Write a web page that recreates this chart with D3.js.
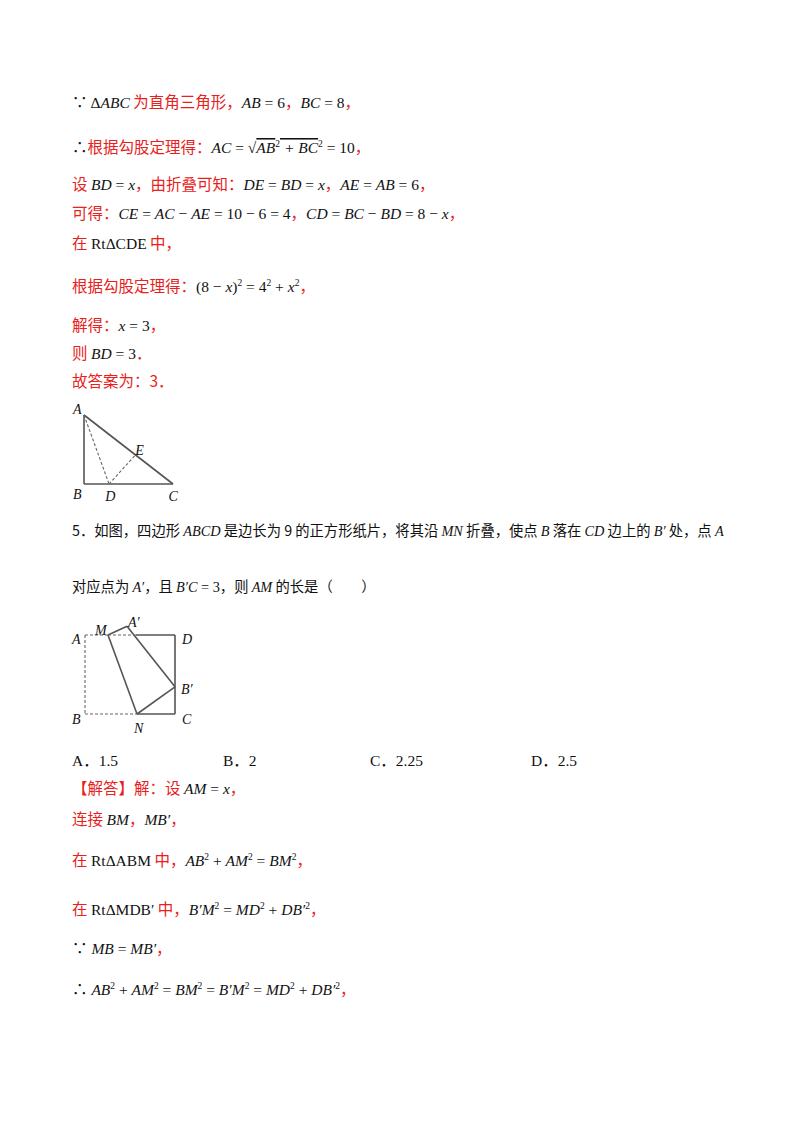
<!DOCTYPE html>
<html><head><meta charset="utf-8">
<script src="https://cdn.jsdelivr.net/npm/d3@7"></script>
<style>body{margin:0;background:#fff}</style></head>
<body><svg id="s" width="800" height="1132"></svg>
<script>
// segments: [text, style]  r=red CJK, k=black CJK, m=math italic, n=math upright, sup=superscript, o=overlined italic
const textLines = [
 {y:108, seg:[["∵ ","n"],["Δ","n"],["ABC","m"],[" 为直角三角形，","r"],["AB","m"],[" = 6","n"],["，","r"],["BC","m"],[" = 8","n"],["，","r"]]},
 {y:153, seg:[["∴","n"],["根据勾股定理得：","r"],["AC","m"],[" = √","n"],["AB","o"],["2","sup"],[" + BC","o"],["2","sup"],[" = 10","n"],["，","r"]]},
 {y:190, seg:[["设 ","r"],["BD","m"],[" = ","n"],["x","m"],["，由折叠可知：","r"],["DE","m"],[" = ","n"],["BD","m"],[" = ","n"],["x","m"],["，","r"],["AE","m"],[" = ","n"],["AB","m"],[" = 6","n"],["，","r"]]},
 {y:219, seg:[["可得：","r"],["CE","m"],[" = ","n"],["AC","m"],[" − ","n"],["AE","m"],[" = 10 − 6 = 4","n"],["，","r"],["CD","m"],[" = ","n"],["BC","m"],[" − ","n"],["BD","m"],[" = 8 − ","n"],["x","m"],["，","r"]]},
 {y:249, seg:[["在 ","r"],["RtΔCDE","n"],[" 中，","r"]]},
 {y:292, seg:[["根据勾股定理得：","r"],["(8 − ","n"],["x","m"],[")","n"],["2","sup"],[" = 4","n"],["2","sup"],[" + ","n"],["x","m"],["2","sup"],["，","r"]]},
 {y:331, seg:[["解得：","r"],["x","m"],[" = 3","n"],["，","r"]]},
 {y:359, seg:[["则 ","r"],["BD","m"],[" = 3","n"],["．","r"]]},
 {y:387, seg:[["故答案为：3．","r"]]},
 {y:536, fs:14.3, seg:[["5．如图，四边形 ","k"],["ABCD","m"],[" 是边长为 9 的正方形纸片，将其沿 ","k"],["MN","m"],[" 折叠，使点 ","k"],["B","m"],[" 落在 ","k"],["CD","m"],[" 边上的 ","k"],["B′","m"],[" 处，点 ","k"],["A","m"]]},
 {y:592, fs:14.3, seg:[["对应点为 ","k"],["A′","m"],["，且 ","k"],["B′C","m"],[" = 3","n"],["，则 ","k"],["AM","m"],[" 的长是（　　）","k"]]},
 {y:794, seg:[["【解答】解：设 ","r"],["AM","m"],[" = ","n"],["x","m"],["，","r"]]},
 {y:825, seg:[["连接 ","r"],["BM","m"],["，","r"],["MB′","m"],["，","r"]]},
 {y:866, seg:[["在 ","r"],["RtΔABM","n"],[" 中，","r"],["AB","m"],["2","sup"],[" + ","n"],["AM","m"],["2","sup"],[" = ","n"],["BM","m"],["2","sup"],["，","r"]]},
 {y:915, seg:[["在 ","r"],["RtΔMDB′","n"],[" 中，","r"],["B′M","m"],["2","sup"],[" = ","n"],["MD","m"],["2","sup"],[" + ","n"],["DB′","m"],["2","sup"],["，","r"]]},
 {y:954, seg:[["∵ ","n"],["MB","m"],[" = ","n"],["MB′","m"],["，","r"]]},
 {y:995, seg:[["∴ ","n"],["AB","m"],["2","sup"],[" + ","n"],["AM","m"],["2","sup"],[" = ","n"],["BM","m"],["2","sup"],[" = ","n"],["B′M","m"],["2","sup"],[" = ","n"],["MD","m"],["2","sup"],[" + ","n"],["DB′","m"],["2","sup"],["，","r"]]}
];
const optionLabels = ["A．1.5","B．2","C．2.25","D．2.5"];
const optionX = [72,223,370,531];

// figure 1 (units: BC=8, AB=6)
const fig1Pts = {A:[0,6],B:[0,0],C:[8,0],D:[2.25,0],E:[4.6,2.5]};
const fig1Solid = [["A","B"],["B","C"],["A","C"]];
const fig1Dash = [["A","D"],["D","E"]];
const fig1Labels = [["A",-1.0,6.5],["B",-1.0,-0.9],["D",1.9,-1.0],["C",7.6,-1.0],["E",4.6,3.0]];
// figure 2 (units: side 9)
const fig2Pts = {A:[0,9],B:[0,0],C:[9,0],D:[9,9],M:[2.3,9],Ap:[4.2,10],N:[5.2,0],Bp:[9,3.1],K:[5.1,9]};
const fig2Solid = [["K","D"],["D","C"],["C","N"],["M","Ap"],["Ap","Bp"],["Bp","N"],["N","M"]];
const fig2Dash = [["M","A"],["A","B"],["B","N"],["M","K"]];
const fig2Labels = [["A",-1.3,8.6],["M",1.0,9.6],["A′",4.3,10.5],["D",9.7,8.6],["B′",9.6,2.8],["B",-1.3,-0.6],["N",4.9,-1.6],["C",9.7,-0.6]];

const svg = d3.select("#s");
const FS = 15.5;
const styles = {
 r:{fill:"#e8211c", family:"'Noto Sans CJK SC',sans-serif", italic:false},
 k:{fill:"#111111", family:"'Noto Sans CJK SC',sans-serif", italic:false},
 m:{fill:"#111111", family:"'Liberation Serif',serif", italic:true},
 o:{fill:"#111111", family:"'Liberation Serif',serif", italic:true},
 n:{fill:"#111111", family:"'Liberation Serif','Noto Sans CJK SC',serif", italic:false},
 sup:{fill:"#111111", family:"'Liberation Serif',serif", italic:false}
};
textLines.forEach(l=>{
  const t = svg.append("text").attr("x",72).attr("y",l.y).attr("font-size",l.fs||FS);
  let off=0;
  l.seg.forEach(([s,st])=>{
    const S=styles[st];
    const ts=t.append("tspan").text(s)
      .attr("font-family",S.family)
      .attr("style",`fill:${S.fill};font-style:${S.italic?"italic":"normal"};`+(st==="o"?"text-decoration:overline;":""));
    if(st==="sup"){ ts.attr("font-size",9.5).attr("dy",-6-off); off=-6; }
    else { ts.attr("dy",-off); off=0; }
  });
});
optionLabels.forEach((o,i)=>svg.append("text").attr("x",optionX[i]).attr("y",766).attr("font-size",FS)
  .attr("font-family","'Liberation Serif','Noto Sans CJK SC',serif").attr("style","fill:#111").text(o));

function drawFig(pts, solid, dash, labels, xs, ys){
  const g=svg.append("g");
  const P=k=>[xs(pts[k][0]),ys(pts[k][1])];
  solid.forEach(([a,b])=>g.append("line").attr("x1",P(a)[0]).attr("y1",P(a)[1]).attr("x2",P(b)[0]).attr("y2",P(b)[1]).attr("stroke","#555").attr("stroke-width",1.6));
  dash.forEach(([a,b])=>g.append("line").attr("x1",P(a)[0]).attr("y1",P(a)[1]).attr("x2",P(b)[0]).attr("y2",P(b)[1]).attr("stroke","#666").attr("stroke-width",1.1).attr("stroke-dasharray","3,2"));
  labels.forEach(([t,x,y])=>g.append("text").attr("x",xs(x)).attr("y",ys(y)+5).attr("font-family","'Liberation Serif',serif").attr("font-style","italic").attr("font-size",14).attr("fill","#111").text(t));
}
drawFig(fig1Pts,fig1Solid,fig1Dash,fig1Labels,d3.scaleLinear([0,8],[84,173]),d3.scaleLinear([0,6],[484,415]));
drawFig(fig2Pts,fig2Solid,fig2Dash,fig2Labels,d3.scaleLinear([0,9],[85,175]),d3.scaleLinear([0,9],[714,635]));
</script></body></html>
